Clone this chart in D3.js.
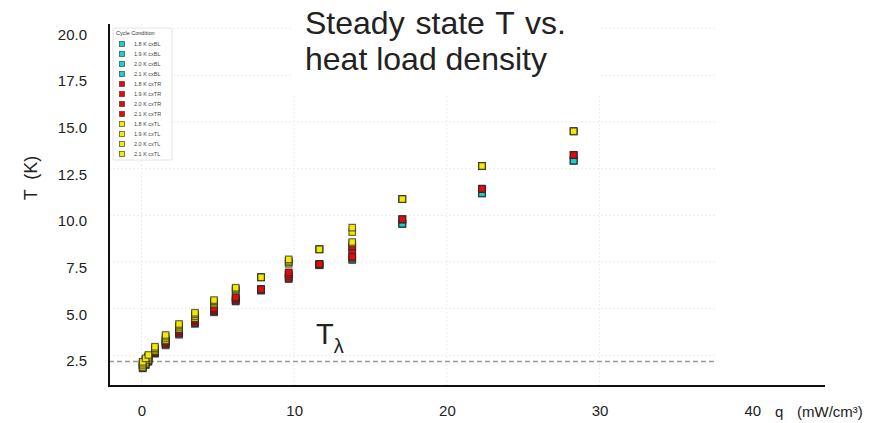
<!DOCTYPE html>
<html>
<head>
<meta charset="utf-8">
<script src="https://cdn.jsdelivr.net/npm/d3@7"></script>
<style>
  body { margin: 0; background: #fff; }
  text { font-family: "Liberation Sans", Arial, sans-serif; fill: #222; }
</style>
</head>
<body>
<div id="chart"></div>
<script>
// heat load density q (mW/cm3), shared by every series
const qValues = [0.08, 0.27, 0.45, 0.88, 1.58, 2.46, 3.5, 4.75, 6.17, 7.83, 9.64, 11.65, 13.8, 17.08, 22.3, 28.3];

const seriesNames = [
  "1.8 K cxBL", "1.9 K cxBL", "2.0 K cxBL", "2.1 K cxBL",
  "1.8 K cxTR", "1.9 K cxTR", "2.0 K cxTR", "2.1 K cxTR",
  "1.8 K cxTL", "1.9 K cxTL", "2.0 K cxTL", "2.1 K cxTL"
];

// steady state T (K), one list per series, same order as seriesNames
const bl18 = [1.80, 1.97, 2.15, 2.58, 3.03, 3.60, 4.18, 4.80, 5.38, 5.98, 6.58, 7.33, 7.60, 9.55, 11.18, 12.93];
const bl19 = [1.90, 2.07, 2.23, 2.64, 3.10, 3.68, 4.26, 4.86, 5.45, 5.97, 6.68, 7.32, 7.66, 9.56, 11.19, 12.92];
const bl20 = [2.00, 2.17, 2.32, 2.71, 3.18, 3.76, 4.34, 4.92, 5.52, 5.99, 6.80, 7.34, 8.02, 9.54, 11.17, 12.94];
const bl21 = [2.10, 2.27, 2.42, 2.78, 3.26, 3.84, 4.42, 4.98, 5.58, 5.98, 6.91, 7.33, 8.26, 9.55, 11.18, 12.93];
const tr18 = [1.82, 2.00, 2.18, 2.62, 3.08, 3.65, 4.22, 4.84, 5.41, 6.04, 6.62, 7.39, 7.72, 9.78, 11.41, 13.23];
const tr19 = [1.92, 2.10, 2.26, 2.68, 3.15, 3.72, 4.30, 4.90, 5.48, 6.03, 6.72, 7.38, 7.78, 9.80, 11.43, 13.22];
const tr20 = [2.02, 2.20, 2.35, 2.75, 3.22, 3.80, 4.38, 4.96, 5.55, 6.05, 6.84, 7.40, 8.12, 9.76, 11.40, 13.24];
const tr21 = [2.12, 2.30, 2.45, 2.82, 3.30, 3.88, 4.45, 5.02, 5.61, 6.04, 6.95, 7.39, 8.33, 9.79, 11.42, 13.23];
const tl18 = [1.85, 2.05, 2.25, 2.72, 3.30, 3.92, 4.50, 5.25, 5.95, 6.68, 7.40, 8.18, 8.50, 10.87, 12.64, 14.50];
const tl19 = [1.95, 2.15, 2.33, 2.80, 3.40, 4.02, 4.60, 5.32, 6.00, 6.67, 7.48, 8.17, 8.57, 10.88, 12.65, 14.51];
const tl20 = [2.05, 2.25, 2.42, 2.88, 3.50, 4.10, 4.70, 5.40, 6.06, 6.69, 7.56, 8.19, 9.10, 10.86, 12.63, 14.49];
const tl21 = [2.15, 2.34, 2.52, 2.96, 3.59, 4.18, 4.78, 5.46, 6.12, 6.68, 7.64, 8.18, 9.34, 10.87, 12.64, 14.50];
const seriesValues = [bl18, bl19, bl20, bl21, tr18, tr19, tr20, tr21, tl18, tl19, tl20, tl21];

const xTicks = [0, 10, 20, 30, 40];
const yTicks = [2.5, 5, 7.5, 10, 12.5, 15, 17.5, 20];
const tLambda = 2.17;

const width = 893, height = 423;
const plotLeft = 109, plotRight = 825, plotTop = 24, plotBottom = 386;
const gridEnd = 715;

const svg = d3.select("#chart").append("svg")
  .attr("width", width)
  .attr("height", height);

const x = d3.scaleLinear().domain([0, 40]).range([141.5, 752.3]);
const y = d3.scaleLinear().domain([0, 20]).range([402, 28.6]);

const color = d3.scaleOrdinal()
  .domain(["BL", "TR", "TL"])
  .range(["#18cfd4", "#e80a0a", "#f3ea00"]);
const groupOf = name => name.slice(-2);

// grid
svg.append("g")
  .selectAll("line")
  .data(yTicks)
  .join("line")
  .attr("x1", plotLeft).attr("x2", gridEnd)
  .attr("y1", d => y(d)).attr("y2", d => y(d))
  .attr("stroke", "#ececec")
  .attr("stroke-dasharray", "2,2");

svg.append("g")
  .selectAll("line")
  .data(xTicks.filter(d => x(d) < gridEnd))
  .join("line")
  .attr("x1", d => x(d)).attr("x2", d => x(d))
  .attr("y1", plotTop).attr("y2", plotBottom)
  .attr("stroke", "#ececec")
  .attr("stroke-dasharray", "2,2");

// T lambda line
svg.append("line")
  .attr("x1", plotLeft).attr("x2", gridEnd)
  .attr("y1", y(tLambda)).attr("y2", y(tLambda))
  .attr("stroke", "#999")
  .attr("stroke-width", 1.3)
  .attr("stroke-dasharray", "5,3");

// title background + title
svg.append("rect")
  .attr("x", 293).attr("y", 0)
  .attr("width", 308).attr("height", 94)
  .attr("fill", "#fff");

svg.append("text")
  .attr("x", 305).attr("y", 34)
  .style("font-size", "32px")
  .style("word-spacing", "2px")
  .text("Steady state T vs.");

svg.append("text")
  .attr("x", 305).attr("y", 70)
  .style("font-size", "32px")
  .text("heat load density");

// axes
const yAxis = svg.append("g")
  .attr("transform", `translate(${plotLeft},0)`)
  .call(d3.axisLeft(y).tickValues(yTicks).tickFormat(d3.format(".1f")).tickSize(0).tickPadding(22));
yAxis.select(".domain").remove();
yAxis.selectAll("text")
  .attr("dy", "0.7em")
  .style("font-size", "15px")
  .style("font-family", "Liberation Sans, Arial, sans-serif")
  .style("fill", "#222");

const xAxis = svg.append("g")
  .attr("transform", `translate(0,${plotBottom})`)
  .call(d3.axisBottom(x).tickValues(xTicks).tickSize(0).tickPadding(19));
xAxis.select(".domain").remove();
xAxis.selectAll("text")
  .style("font-size", "15px")
  .style("font-family", "Liberation Sans, Arial, sans-serif")
  .style("fill", "#222");

svg.append("line")
  .attr("x1", plotLeft).attr("x2", plotLeft)
  .attr("y1", plotTop).attr("y2", plotBottom + 1)
  .attr("stroke", "#111").attr("stroke-width", 2);

svg.append("line")
  .attr("x1", plotLeft - 1).attr("x2", plotRight)
  .attr("y1", plotBottom).attr("y2", plotBottom)
  .attr("stroke", "#111").attr("stroke-width", 2);

svg.append("text")
  .attr("x", 775).attr("y", 417)
  .style("font-size", "15px")
  .text("q");

svg.append("text")
  .attr("x", 797).attr("y", 417)
  .style("font-size", "15px")
  .text("(mW/cm³)");

svg.append("text")
  .attr("transform", "translate(37,178) rotate(-90)")
  .attr("text-anchor", "middle")
  .style("font-size", "18px")
  .style("white-space", "pre")
  .text("T  (K)");

// T lambda label
const tl = svg.append("text")
  .attr("x", 316).attr("y", 344)
  .style("font-size", "29px");
tl.append("tspan").text("T");
tl.append("tspan").attr("dy", 9).style("font-size", "20px").text("λ");

// markers
const points = [];
seriesNames.forEach((name, si) => {
  seriesValues[si].forEach((t, i) => points.push({ name, q: qValues[i], t }));
});

const ms = 6.5;
svg.append("g")
  .selectAll("rect")
  .data(points)
  .join("rect")
  .attr("x", d => x(d.q) - ms / 2)
  .attr("y", d => y(d.t) - ms / 2)
  .attr("width", ms).attr("height", ms)
  .attr("fill", d => color(groupOf(d.name)))
  .attr("stroke", "rgba(40,40,40,0.7)")
  .attr("stroke-width", 1.2);

// legend
const legend = svg.append("g");
legend.append("rect")
  .attr("x", 113).attr("y", 28)
  .attr("width", 59).attr("height", 132)
  .attr("fill", "#fff")
  .attr("stroke", "#ddd")
  .attr("stroke-width", 0.8)
  .attr("rx", 1);

legend.append("text")
  .attr("x", 116).attr("y", 35)
  .style("font-size", "5.5px")
  .style("fill", "#333")
  .text("Cycle Condition");

const items = legend.selectAll(".item")
  .data(seriesNames)
  .join("g")
  .attr("class", "item")
  .attr("transform", (d, i) => `translate(122,${44 + i * 10})`);

items.append("rect")
  .attr("x", -2.5).attr("y", -2.5)
  .attr("width", 5).attr("height", 5)
  .attr("fill", d => color(groupOf(d)))
  .attr("stroke", "rgba(30,30,30,0.7)")
  .attr("stroke-width", 0.8);

items.append("text")
  .attr("x", 12).attr("y", 2)
  .style("font-size", "5.5px")
  .style("fill", "#444")
  .text(d => d);
</script>
</body>
</html>
